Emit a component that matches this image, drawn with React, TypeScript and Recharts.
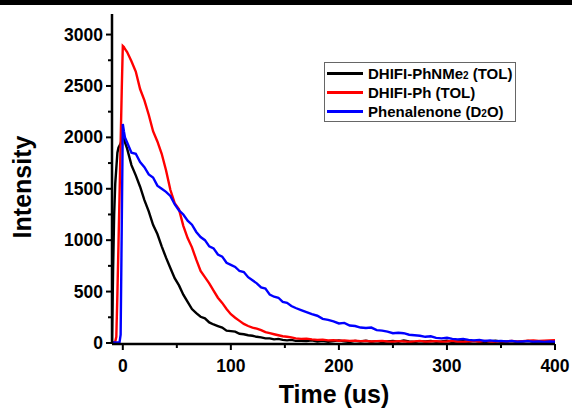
import { LineChart, Line, XAxis, YAxis, Legend, Label } from 'recharts';

const FONT = '"Liberation Sans", Arial, sans-serif';

// time (us)
const TIME = [
  -10, -9, -8, -7, -6, -5, -4, -3, -2, -1, 0, 1, 2,
  4, 8, 12, 16, 20, 24, 28, 32, 36, 40, 44, 48, 52, 56, 60, 64, 68, 72, 76, 80,
  84, 88, 92, 96, 100, 104, 108, 112, 116, 120, 124, 128, 132, 136, 140, 144, 148, 152, 156, 160,
  165, 170, 175, 180, 185, 190, 195, 200, 205, 210, 215, 220, 225, 230, 235, 240,
  245, 250, 255, 260, 265, 270, 275, 280, 285, 290, 295, 300, 305, 310, 315, 320,
  325, 330, 335, 340, 345, 350, 355, 360, 365, 370, 375, 380, 385, 390, 395, 400,
];

// DHIFI-PhNMe2 (TOL)
const BLACK = [
  0, 700, 1250, 1550, 1700, 1850, 1900, 1920, 1940, 1980, 2010, 1990, 1950,
  1890, 1730, 1630, 1520, 1390, 1280, 1150, 1060, 940, 830, 730, 630, 560, 470, 400, 330, 290, 255, 240, 200,
  180, 165, 150, 120, 115, 110, 90, 85, 75, 70, 60, 55, 45, 45, 35, 40, 30, 25, 30, 20,
  22, 18, 25, 15, 20, 12, 18, 25, 15, 10, 20, 15, 22, 12, 18, 10,
  15, 20, 12, 25, 15, 10, 18, 14, 20, 12, 16, 22, 10, 15, 18, 12,
  20, 14, 10, 16, 22, 12, 15, 18, 10, 14, 20, 12, 16, 10, 15, 12,
];

// DHIFI-Ph (TOL)
const RED = [
  5, 5, 8, 15, 60, 480, 960, 1450, 1950, 2450, 2890, 2880, 2860,
  2830, 2740, 2640, 2470, 2360, 2220, 2060, 1960, 1840, 1680, 1490, 1360, 1300, 1140, 1020, 930, 810, 700, 640, 580,
  510, 440, 390, 330, 280, 245, 215, 185, 165, 150, 140, 125, 105, 95, 85, 75, 65, 60, 55, 45,
  40, 42, 35, 30, 32, 25, 28, 22, 25, 20, 22, 18, 20, 15, 18, 20,
  15, 12, 18, 15, 10, 15, 20, 12, 15, 18, 12, 15, 20, 12, 10, 15,
  18, 12, 20, 15, 12, 18, 15, 20, 15, 18, 22, 25, 20, 22, 25, 28,
];

// Phenalenone (D2O)
const BLUE = [
  5, 5, 5, 5, 5, 5, 5, 8, 80, 1100, 2130, 2060, 2000,
  1950, 1850, 1840, 1760, 1710, 1640, 1610, 1530, 1500, 1470, 1430, 1350, 1290, 1250, 1190, 1150, 1080, 1030, 1000, 940,
  920, 860, 840, 780, 760, 740, 700, 690, 640, 610, 580, 540, 530, 470, 450, 440, 400, 390, 360, 340,
  320, 300, 280, 265, 235, 225, 210, 190, 195, 170, 165, 150, 145, 150, 125, 120,
  110, 95, 100, 95, 80, 75, 70, 60, 65, 50, 45, 50, 40, 35, 40, 30,
  25, 30, 20, 25, 18, 20, 15, 20, 12, 15, 18, 12, 15, 10, 14, 12,
];

const X_TICKS = [0, 50, 100, 150, 200, 250, 300, 350, 400];
const Y_TICKS = [0, 250, 500, 750, 1000, 1250, 1500, 1750, 2000, 2250, 2500, 2750, 3000];

const SERIES = [
  { key: 'black', color: '#000000', name: 'DHIFI-PhNMe', sub: '2', tail: ' (TOL)' },
  { key: 'red', color: '#ff0000', name: 'DHIFI-Ph (TOL)', sub: '', tail: '' },
  { key: 'blue', color: '#0000ff', name: 'Phenalenone (D', sub: '2', tail: 'O)' },
];

const data = TIME.map((t, i) => ({ t, black: BLACK[i], red: RED[i], blue: BLUE[i] }));

function XTick(props: any) {
  const { x, y, payload } = props;
  const major = payload.value % 100 === 0;
  return (
    <g>
      <line x1={x} y1={y} x2={x} y2={y + (major ? 6 : 4)} stroke="#000" strokeWidth={2} />
      {major && (
        <text x={x} y={y + 28} textAnchor="middle" fontFamily={FONT} fontWeight="bold" fontSize={17.5} fill="#000">
          {payload.value}
        </text>
      )}
    </g>
  );
}

function YTick(props: any) {
  const { x, y, payload } = props;
  const major = payload.value % 500 === 0;
  return (
    <g>
      <line x1={x} y1={y} x2={x - (major ? 6 : 4)} y2={y} stroke="#000" strokeWidth={2} />
      {major && (
        <text x={x - 9} y={y + 6} textAnchor="end" fontFamily={FONT} fontWeight="bold" fontSize={17.5} fill="#000">
          {payload.value}
        </text>
      )}
    </g>
  );
}

function LegendBox() {
  return (
    <div
      style={{
        border: '1px solid #666',
        background: '#fff',
        padding: '1px 2px 0 2px',
        fontFamily: FONT,
        fontWeight: 'bold',
        fontSize: 15,
        color: '#000',
        width: 186,
      }}
    >
      {SERIES.map((s) => (
        <div key={s.key} style={{ display: 'flex', alignItems: 'center', height: 19, whiteSpace: 'nowrap' }}>
          <span style={{ display: 'inline-block', width: 36, height: 2.5, background: s.color, marginRight: 5 }} />
          <span>
            {s.name}
            {s.sub && <span style={{ fontSize: 10 }}>{s.sub}</span>}
            {s.tail}
          </span>
        </div>
      ))}
    </div>
  );
}

export default function App() {
  return (
    <div style={{ position: 'absolute', left: 0, top: 0, width: 572, height: 410, background: '#fff' }}>
      <div style={{ position: 'absolute', left: 0, top: 0, width: 572, height: 5, background: '#000' }} />
      <LineChart width={572} height={410} data={data} margin={{ top: 14, right: 17, left: 0, bottom: 0 }}>
        <XAxis
          type="number"
          dataKey="t"
          domain={[-10, 400]}
          ticks={X_TICKS}
          interval={0}
          allowDataOverflow
          height={66}
          tickSize={0}
          tickMargin={0}
          tickLine={false}
          tick={<XTick />}
          axisLine={{ stroke: '#000', strokeWidth: 2.5 }}
        >
          <Label
            content={() => (
              <text x={334} y={403} textAnchor="middle" fontFamily={FONT} fontWeight="bold" fontSize={25} fill="#000">
                Time (us)
              </text>
            )}
          />
        </XAxis>
        <XAxis
          xAxisId="top"
          orientation="top"
          type="number"
          domain={[-10, 400]}
          height={0}
          tick={false}
          tickLine={false}
          axisLine={{ stroke: '#000', strokeWidth: 2.5 }}
        />
        <YAxis
          type="number"
          domain={[-10, 3200]}
          ticks={Y_TICKS}
          interval={0}
          allowDataOverflow
          width={112}
          tickSize={0}
          tickMargin={0}
          tickLine={false}
          tick={<YTick />}
          axisLine={{ stroke: '#000', strokeWidth: 2.5 }}
        >
          <Label
            content={() => (
              <text
                x={31}
                y={187}
                transform="rotate(-90 31 187)"
                textAnchor="middle"
                fontFamily={FONT}
                fontWeight="bold"
                fontSize={25}
                fill="#000"
              >
                Intensity
              </text>
            )}
          />
        </YAxis>
        <YAxis
          yAxisId="right"
          orientation="right"
          type="number"
          domain={[-10, 3200]}
          width={0}
          tick={false}
          tickLine={false}
          axisLine={{ stroke: '#000', strokeWidth: 2.5 }}
        />
        <Legend
          layout="vertical"
          align="center"
          verticalAlign="middle"
          content={<LegendBox />}
          wrapperStyle={{ left: 324, top: 62, width: 'auto' }}
        />
        {SERIES.map((s) => (
          <Line
            key={s.key}
            type="linear"
            dataKey={s.key}
            stroke={s.color}
            strokeWidth={2.4}
            dot={false}
            isAnimationActive={false}
          />
        ))}
      </LineChart>
    </div>
  );
}
